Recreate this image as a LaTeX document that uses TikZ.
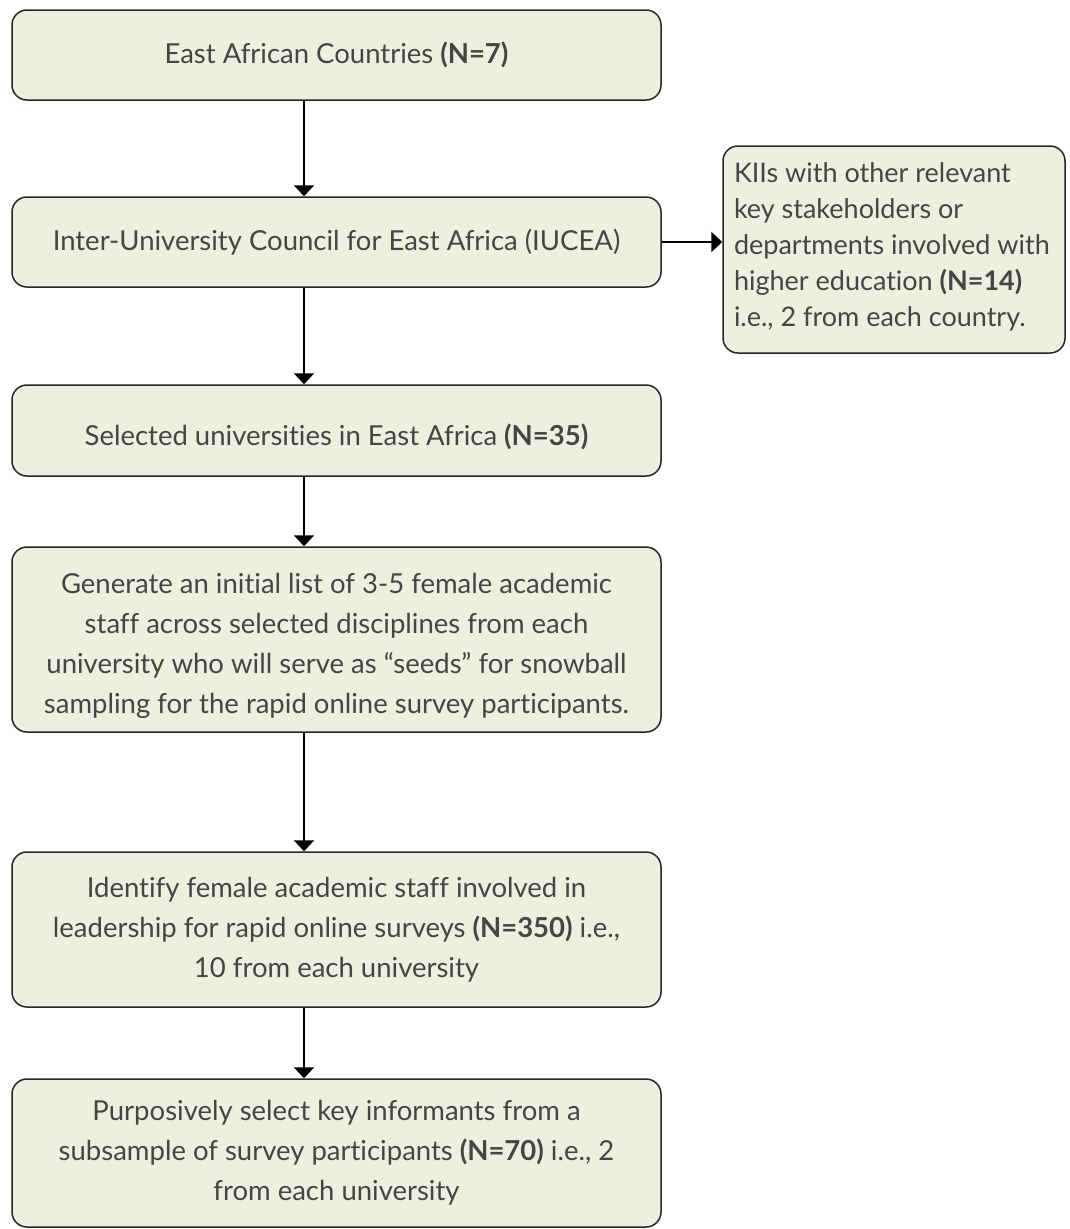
\documentclass[tikz,border=0pt]{standalone}
\usepackage{fontspec}
\setmainfont{Lato}[Ligatures={NoCommon,NoRare,NoContextual}]
\usetikzlibrary{arrows.meta}
\definecolor{boxfill}{HTML}{EBF1DE}
\definecolor{boxdraw}{HTML}{262626}
\definecolor{txt}{HTML}{454545}
\newcommand{\shiftdown}[2]{\raisebox{-#1}[\height][\depth]{\parbox{640pt}{\centering #2}}}
\begin{document}
\begin{tikzpicture}[x=1pt,y=-1pt,
  flowbox/.style={draw=boxdraw,fill=boxfill,line width=1.5pt,rounded corners=15pt,
    minimum width=649pt,align=center,text=txt,inner sep=0pt,
    font=\fontsize{27.5}{40}\selectfont},
  sidebox/.style={draw=boxdraw,fill=boxfill,line width=1.5pt,rounded corners=15pt,
    minimum width=342pt,minimum height=207pt,text=txt,inner sep=0pt,
    font=\fontsize{27}{36}\selectfont},
  conn/.style={line width=2.4pt,-{Triangle[width=20pt,length=11pt]}}]
\useasboundingbox (0,0) rectangle (1069,1229);
\node[flowbox,minimum height=90pt] (b1) at (336.5,55) {East African Countries \textbf{(N=7)}};
\node[flowbox,minimum height=90pt] (b2) at (336.5,242) {Inter-University Council for East Africa (IUCEA)};
\node[flowbox,minimum height=91pt] (b3) at (336.5,430.5) {\shiftdown{6pt}{Selected universities in East Africa \textbf{(N=35)}}};
\node[flowbox,minimum height=185pt] (b4) at (336.5,639.5) {\shiftdown{6pt}{Generate an initial list of 3-5 female academic\\staff across selected disciplines from each\\university who will serve as “seeds” for snowball\\sampling for the rapid online survey participants.}};
\node[flowbox,minimum height=155pt] (b5) at (336.5,929.5) {Identify female academic staff involved in\\leadership for rapid online surveys \textbf{(N=350)} i.e.,\\10 from each university};
\node[flowbox,minimum height=148pt] (b6) at (336.5,1153) {Purposively select key informants from a\\subsample of survey participants \textbf{(N=70)} i.e., 2\\from each university};
\node[sidebox] (s) at (894,249.5) {\raisebox{3pt}[\height][\depth]{\hspace*{4pt}\parbox{324pt}{\raggedright KIIs with other relevant\\key stakeholders or\\departments involved with\\higher education \textbf{(N=14)}\\i.e., 2 from each country.}}};
\coordinate (ax) at (304,0);
\draw[conn] (ax |- b1.south) -- (ax |- b2.north);
\draw[conn] (ax |- b2.south) -- (ax |- b3.north);
\draw[conn] (ax |- b3.south) -- (ax |- b4.north);
\draw[conn] (ax |- b4.south) -- (ax |- b5.north);
\draw[conn] (ax |- b5.south) -- (ax |- b6.north);
\draw[conn] (b2.east) -- (s.west |- b2.east);
\end{tikzpicture}
\end{document}
